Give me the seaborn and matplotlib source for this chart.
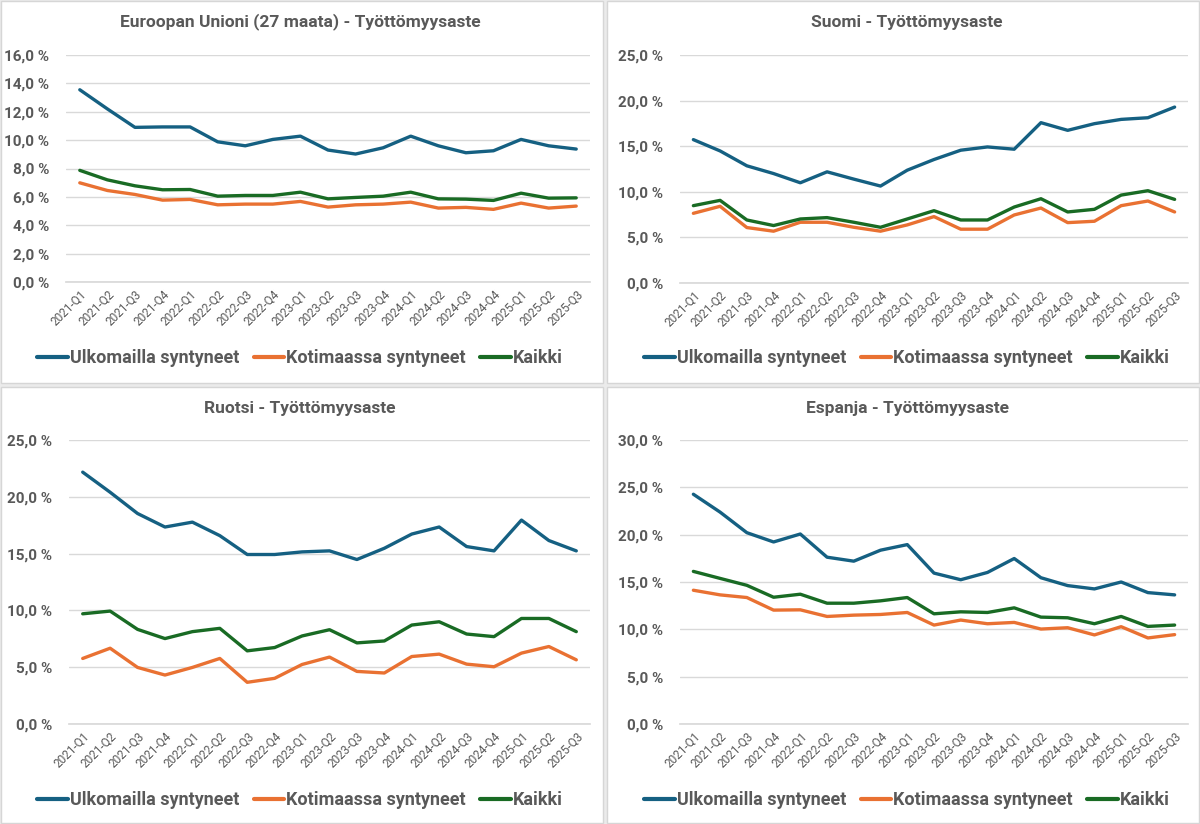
import matplotlib
matplotlib.use("Agg")
import matplotlib.pyplot as plt
from matplotlib.patches import Rectangle
from matplotlib.ticker import FuncFormatter, MultipleLocator
import seaborn as sns
import pandas as pd

sns.set_theme(style="white")
plt.rcParams["font.family"] = ["Roboto", "DejaVu Sans"]

quarters = ["2021-Q1", "2021-Q2", "2021-Q3", "2021-Q4",
            "2022-Q1", "2022-Q2", "2022-Q3", "2022-Q4",
            "2023-Q1", "2023-Q2", "2023-Q3", "2023-Q4",
            "2024-Q1", "2024-Q2", "2024-Q3", "2024-Q4",
            "2025-Q1", "2025-Q2", "2025-Q3"]
series_names = ["Ulkomailla syntyneet", "Kotimaassa syntyneet", "Kaikki"]

# EU 27
eu_foreign = [13.55, 12.2, 10.9, 10.93, 10.93, 9.88, 9.6, 10.05, 10.28, 9.3, 9.02, 9.46, 10.28, 9.6, 9.11, 9.25, 10.05, 9.6, 9.37]
eu_native = [6.99, 6.45, 6.17, 5.77, 5.82, 5.44, 5.49, 5.49, 5.68, 5.28, 5.44, 5.49, 5.63, 5.21, 5.26, 5.12, 5.56, 5.21, 5.35]
eu_all = [7.87, 7.2, 6.78, 6.5, 6.52, 6.05, 6.1, 6.1, 6.33, 5.86, 5.96, 6.05, 6.33, 5.86, 5.84, 5.75, 6.26, 5.91, 5.93]

# Suomi
fi_foreign = [15.72, 14.48, 12.85, 12.0, 10.99, 12.19, 11.39, 10.63, 12.37, 13.54, 14.56, 14.92, 14.67, 17.58, 16.74, 17.47, 17.94, 18.12, 19.29]
fi_native = [7.64, 8.41, 6.08, 5.68, 6.66, 6.66, 6.11, 5.68, 6.37, 7.28, 5.9, 5.9, 7.46, 8.22, 6.62, 6.77, 8.48, 8.99, 7.79]
fi_all = [8.48, 9.06, 6.91, 6.3, 7.02, 7.17, 6.66, 6.11, 7.02, 7.93, 6.91, 6.91, 8.33, 9.24, 7.79, 8.08, 9.64, 10.12, 9.17]

# Ruotsi
se_foreign = [22.17, 20.4, 18.53, 17.34, 17.77, 16.58, 14.92, 14.92, 15.15, 15.24, 14.48, 15.47, 16.72, 17.34, 15.62, 15.24, 17.95, 16.15, 15.24]
se_native = [5.77, 6.67, 4.98, 4.31, 4.98, 5.77, 3.67, 4.02, 5.24, 5.89, 4.63, 4.49, 5.94, 6.15, 5.27, 5.04, 6.24, 6.82, 5.65]
se_all = [9.7, 9.94, 8.33, 7.52, 8.13, 8.42, 6.44, 6.73, 7.75, 8.3, 7.14, 7.31, 8.71, 9.0, 7.92, 7.69, 9.29, 9.29, 8.13]

# Espanja
es_foreign = [24.27, 22.38, 20.21, 19.23, 20.07, 17.62, 17.2, 18.36, 18.95, 15.94, 15.24, 16.01, 17.48, 15.45, 14.62, 14.27, 15.0, 13.88, 13.64]
es_native = [14.13, 13.64, 13.36, 12.03, 12.06, 11.36, 11.5, 11.57, 11.78, 10.45, 10.98, 10.59, 10.73, 10.03, 10.17, 9.41, 10.28, 9.09, 9.44]
es_all = [16.12, 15.38, 14.65, 13.39, 13.71, 12.76, 12.76, 13.01, 13.36, 11.64, 11.85, 11.78, 12.27, 11.29, 11.22, 10.59, 11.36, 10.31, 10.45]

colors = {"Ulkomailla syntyneet": "#156082",
          "Kotimaassa syntyneet": "#E97132",
          "Kaikki": "#196B24"}
text_col = "#595959"
grid_col = "#d9d9d9"

W, H = 1200, 824
fig = plt.figure(figsize=(W / 100, H / 100), dpi=100)
fig.patch.set_facecolor("#ebebeb")

# panel frames (pixels: x0, y0, x1, y1)
frames = [(1, 1, 603, 383), (607, 1, 1199, 383), (1, 387, 603, 823), (607, 387, 1199, 823)]
for x0, y0, x1, y1 in frames:
    fig.patches.append(Rectangle((x0 / W, 1 - y1 / H), (x1 - x0) / W, (y1 - y0) / H,
                                 transform=fig.transFigure, facecolor="white",
                                 edgecolor="#d6d6d6", linewidth=1, zorder=-10))

panels = [
    dict(title="Euroopan Unioni (27 maata) - Työttömyysaste", data=[eu_foreign, eu_native, eu_all],
         x0=66, x1=590, ytop=55, ybot=282, ymax=16, step=2, title_y=22, leg_y=358, cx=300),
    dict(title="Suomi - Työttömyysaste", data=[fi_foreign, fi_native, fi_all],
         x0=680, x1=1188, ytop=55, ybot=283, ymax=25, step=5, title_y=22, leg_y=358, cx=907),
    dict(title="Ruotsi - Työttömyysaste", data=[se_foreign, se_native, se_all],
         x0=69, x1=590, ytop=440, ybot=724, ymax=25, step=5, title_y=408, leg_y=800, cx=300),
    dict(title="Espanja - Työttömyysaste", data=[es_foreign, es_native, es_all],
         x0=680, x1=1188, ytop=440, ybot=724, ymax=30, step=5, title_y=408, leg_y=800, cx=907),
]

pct = FuncFormatter(lambda v, p: f"{v:.1f}".replace(".", ",") + " %")

for p in panels:
    ax = fig.add_axes([p["x0"] / W, 1 - p["ybot"] / H, (p["x1"] - p["x0"]) / W, (p["ybot"] - p["ytop"]) / H])
    ax.set_facecolor("none")
    rows = []
    for name, vals in zip(series_names, p["data"]):
        for i, v in enumerate(vals):
            rows.append({"idx": i, "value": v, "series": name})
    df = pd.DataFrame(rows)
    sns.lineplot(data=df, x="idx", y="value", hue="series", hue_order=series_names,
                 palette=colors, linewidth=2.4, ax=ax, legend=False, zorder=3)
    ax.set_xlim(-0.5, len(quarters) - 0.5)
    ax.set_ylim(0, p["ymax"])
    ax.yaxis.set_major_locator(MultipleLocator(p["step"]))
    ax.yaxis.set_major_formatter(pct)
    ax.grid(axis="y", color=grid_col, linewidth=1)
    ax.grid(axis="x", visible=False)
    for s in ax.spines.values():
        s.set_visible(False)
    ax.spines["bottom"].set_visible(True)
    ax.spines["bottom"].set_color(grid_col)
    ax.set_xticks(range(len(quarters)))
    ax.set_xticklabels(quarters, rotation=45, ha="right", rotation_mode="anchor",
                       fontsize=8.5, color=text_col)
    ax.tick_params(axis="x", length=0, pad=4)
    ax.tick_params(axis="y", length=0, pad=12, labelsize=11, labelcolor=text_col)
    for lab in ax.get_yticklabels():
        lab.set_fontweight("bold")
    ax.set_xlabel("")
    ax.set_ylabel("")
    fig.text(p["cx"] / W, 1 - p["title_y"] / H, p["title"], ha="center", va="center",
             fontsize=12.5, fontweight="bold", color=text_col)
    handles = [plt.Line2D([], [], color=colors[n], linewidth=3) for n in series_names]
    leg = ax.legend(handles, series_names, loc="center", bbox_to_anchor=(p["cx"] / W, 1 - p["leg_y"] / H),
                    bbox_transform=fig.transFigure, ncol=3, frameon=False, fontsize=13,
                    handlelength=1.7, handletextpad=0.1, columnspacing=0.8)
    for t in leg.get_texts():
        t.set_color(text_col)
        t.set_fontweight("bold")

fig.savefig("out.png", dpi=100, facecolor=fig.get_facecolor())
